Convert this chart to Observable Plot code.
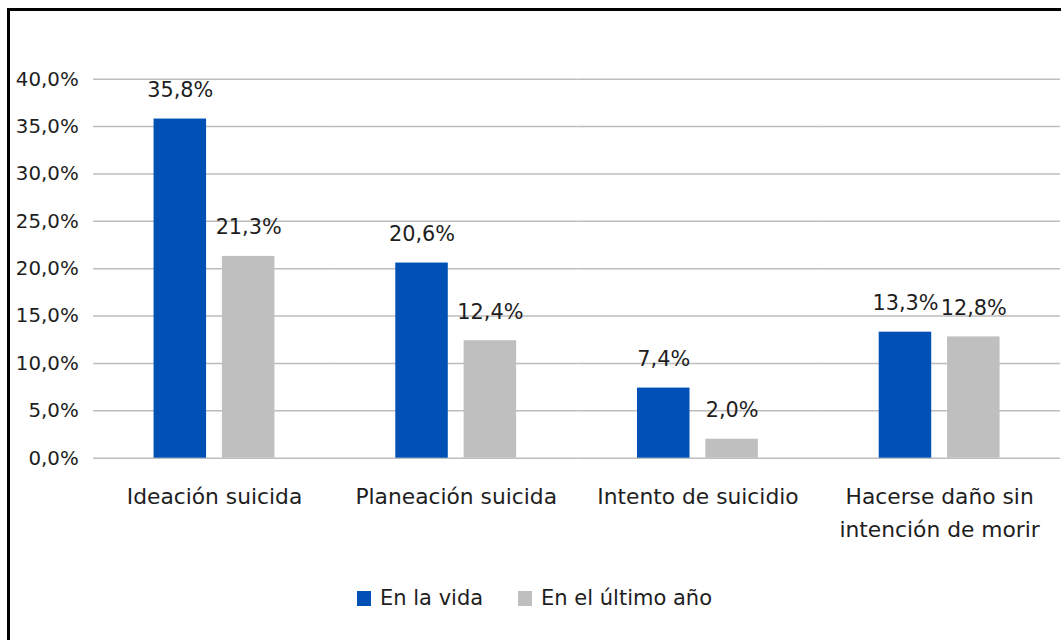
<!DOCTYPE html>
<html>
<head>
<meta charset="utf-8">
<script src="https://cdn.jsdelivr.net/npm/d3@7"></script>
<script src="https://cdn.jsdelivr.net/npm/@observablehq/plot@0.6"></script>
<style>
  html, body { margin: 0; padding: 0; background: #fff; }
  #frame {
    position: absolute; left: 7px; top: 8px;
    width: 1054px; height: 632px; box-sizing: border-box;
    border-left: 3px solid #000; border-top: 3px solid #000;
    overflow: hidden; background: #fff;
  }
  #chart { position: absolute; left: -10px; top: -11px; }
  #legend {
    position: absolute; left: 347px; top: 575px;
    display: flex; align-items: center;
    font-family: "DejaVu Sans", sans-serif; font-size: 21px; color: #1e1e1e;
  }
  .sw { width: 14px; height: 15px; display: inline-block; margin-right: 9px; }
  .item { display: flex; align-items: center; }
</style>
</head>
<body>
<div id="frame">
  <div id="chart"></div>
  <div id="legend"></div>
</div>
<script>
const categories = ["Ideación suicida", "Planeación suicida", "Intento de suicidio", "Hacerse daño sin\nintención de morir"];
const series = ["En la vida", "En el último año"];
const enLaVida = [35.8, 20.6, 7.4, 13.3];
const enElUltimoAno = [21.3, 12.4, 2.0, 12.8];
const yTicks = [0, 5, 10, 15, 20, 25, 30, 35, 40];
const colors = ["#0050b5", "#bfbfbf"];

const rows = [];
categories.forEach((c, i) => {
  rows.push({cat: c, serie: series[0], value: enLaVida[i]});
  rows.push({cat: c, serie: series[1], value: enElUltimoAno[i]});
});
const fmt = v => v.toFixed(1).replace(".", ",") + "%";

const chart = Plot.plot({
  width: 1071,
  height: 560,
  marginLeft: 92,
  marginRight: 0,
  marginTop: 79.5,
  marginBottom: 98,
  fx: {domain: categories, padding: 0, axis: null},
  x: {domain: series, paddingInner: 0.2286, paddingOuter: 0.862, axis: null},
  y: {domain: [0, 40], axis: null},
  color: {domain: series, range: colors},
  style: {fontFamily: "DejaVu Sans", background: "transparent", overflow: "visible"},
  marks: [
    Plot.gridY(yTicks, {stroke: "#bdbdbd", strokeOpacity: 1, strokeWidth: 1.5}),
    Plot.axisY(yTicks, {tickSize: 0, tickPadding: 15, tickFormat: fmt, fontSize: 20, fill: "#1e1e1e", label: null}),
    Plot.barY(rows, {fx: "cat", x: "serie", y: "value", fill: "serie"}),
    Plot.text(rows, {fx: "cat", x: "serie", y: "value", text: d => fmt(d.value), dy: -29, fontSize: 21, fill: "#1e1e1e"}),
    Plot.text(categories, {fx: d => d, text: d => d, frameAnchor: "bottom", lineAnchor: "top", dy: 23, lineHeight: 1.5, fontSize: 22, fill: "#1e1e1e"})
  ]
});
document.getElementById("chart").appendChild(chart);

const legend = document.getElementById("legend");
series.forEach((s, i) => {
  const item = document.createElement("div");
  item.className = "item";
  if (i > 0) item.style.marginLeft = "35px";
  const sw = document.createElement("span");
  sw.className = "sw";
  sw.style.background = colors[i];
  const t = document.createElement("span");
  t.textContent = s;
  item.appendChild(sw);
  item.appendChild(t);
  legend.appendChild(item);
});
</script>
</body>
</html>
